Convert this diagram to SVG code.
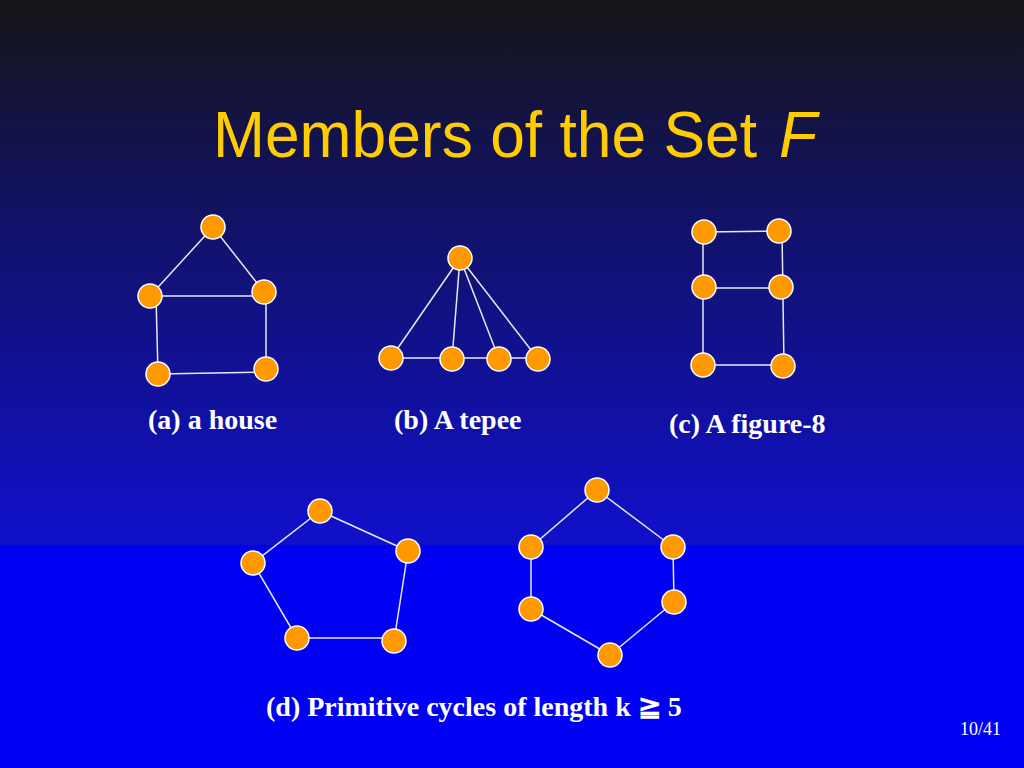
<svg xmlns="http://www.w3.org/2000/svg" width="1024" height="768" viewBox="0 0 1024 768">
<defs>
<linearGradient id="bg" x1="0" y1="0" x2="0" y2="1">
<stop offset="0" stop-color="#151517"/>
<stop offset="0.35" stop-color="#12125e"/>
<stop offset="1" stop-color="#1010cc"/>
</linearGradient>
<style>
.e{stroke:#e8e8f4;stroke-width:1.5;fill:none}
.n{fill:#ff9900;stroke:#ffffff;stroke-width:1.5}
.lbl{font-family:"Liberation Serif","Times New Roman",serif;font-weight:bold;font-size:28px;fill:#ffffff}
.ttl{font-family:"Liberation Sans",Arial,sans-serif;font-size:65px;fill:#ffcc00}
</style>
</defs>
<rect x="0" y="0" width="1024" height="545" fill="url(#bg)"/>
<rect x="0" y="545" width="1024" height="223" fill="#0000f2"/>
<g id="title">
<text class="ttl" x="213" y="157" textLength="544" lengthAdjust="spacingAndGlyphs">Members of the Set</text>
<text class="ttl" x="779" y="157" font-style="italic" textLength="38" lengthAdjust="spacingAndGlyphs">F</text>
</g>
<g id="connectors">
<line class="e" x1="213" y1="227" x2="150" y2="296"/>
<line class="e" x1="213" y1="227" x2="264" y2="292"/>
<line class="e" x1="150" y1="296" x2="264" y2="296"/>
<line class="e" x1="156" y1="296" x2="158" y2="374"/>
<line class="e" x1="266" y1="298" x2="266" y2="369"/>
<line class="e" x1="158" y1="374" x2="266" y2="372"/>
<line class="e" x1="460" y1="258" x2="391" y2="358"/>
<line class="e" x1="460" y1="258" x2="452" y2="359"/>
<line class="e" x1="460" y1="258" x2="499" y2="359"/>
<line class="e" x1="460" y1="258" x2="538" y2="359"/>
<line class="e" x1="391" y1="358" x2="538" y2="358"/>
<line class="e" x1="704" y1="232" x2="779" y2="231"/>
<line class="e" x1="704" y1="288" x2="781" y2="288"/>
<line class="e" x1="703" y1="365" x2="783" y2="365"/>
<line class="e" x1="703" y1="232" x2="703" y2="365"/>
<line class="e" x1="782" y1="231" x2="784" y2="366"/>
<line class="e" x1="320" y1="511" x2="408" y2="551"/>
<line class="e" x1="320" y1="511" x2="253" y2="563"/>
<line class="e" x1="253" y1="563" x2="297" y2="638"/>
<line class="e" x1="297" y1="638" x2="394" y2="638"/>
<line class="e" x1="394" y1="641" x2="408" y2="551"/>
<line class="e" x1="597" y1="490" x2="531" y2="547"/>
<line class="e" x1="597" y1="490" x2="673" y2="547"/>
<line class="e" x1="531" y1="547" x2="531" y2="609"/>
<line class="e" x1="673" y1="547" x2="674" y2="602"/>
<line class="e" x1="531" y1="609" x2="610" y2="655"/>
<line class="e" x1="674" y1="602" x2="610" y2="655"/>
</g>
<g id="house">
<circle class="n" cx="213" cy="227" r="12"/>
<circle class="n" cx="150" cy="296" r="12"/>
<circle class="n" cx="264" cy="292" r="12"/>
<circle class="n" cx="158" cy="374" r="12"/>
<circle class="n" cx="266" cy="369" r="12"/>
</g>
<g id="tepee">
<circle class="n" cx="460" cy="258" r="12"/>
<circle class="n" cx="391" cy="358" r="12"/>
<circle class="n" cx="452" cy="359" r="12"/>
<circle class="n" cx="499" cy="359" r="12"/>
<circle class="n" cx="538" cy="359" r="12"/>
</g>
<g id="figure8">
<circle class="n" cx="704" cy="232" r="12"/>
<circle class="n" cx="779" cy="231" r="12"/>
<circle class="n" cx="704" cy="287" r="12"/>
<circle class="n" cx="781" cy="287" r="12"/>
<circle class="n" cx="703" cy="365" r="12"/>
<circle class="n" cx="783" cy="366" r="12"/>
</g>
<g id="pentagon">
<circle class="n" cx="320" cy="511" r="12"/>
<circle class="n" cx="408" cy="551" r="12"/>
<circle class="n" cx="253" cy="563" r="12"/>
<circle class="n" cx="297" cy="638" r="12"/>
<circle class="n" cx="394" cy="641" r="12"/>
</g>
<g id="hexagon">
<circle class="n" cx="597" cy="490" r="12"/>
<circle class="n" cx="531" cy="547" r="12"/>
<circle class="n" cx="673" cy="547" r="12"/>
<circle class="n" cx="531" cy="609" r="12"/>
<circle class="n" cx="674" cy="602" r="12"/>
<circle class="n" cx="610" cy="655" r="12"/>
</g>
<g id="labels">
<text class="lbl" x="148" y="429">(a) a house</text>
<text class="lbl" x="394" y="429">(b) A tepee</text>
<text class="lbl" x="669" y="433">(c) A figure-8</text>
<text class="lbl" x="266" y="716">(d) Primitive cycles of length k ≧ 5</text>
<text x="960" y="735" font-family="'Liberation Serif','Times New Roman',serif" font-size="18" fill="#ffffff">10/41</text>
</g>
</svg>
